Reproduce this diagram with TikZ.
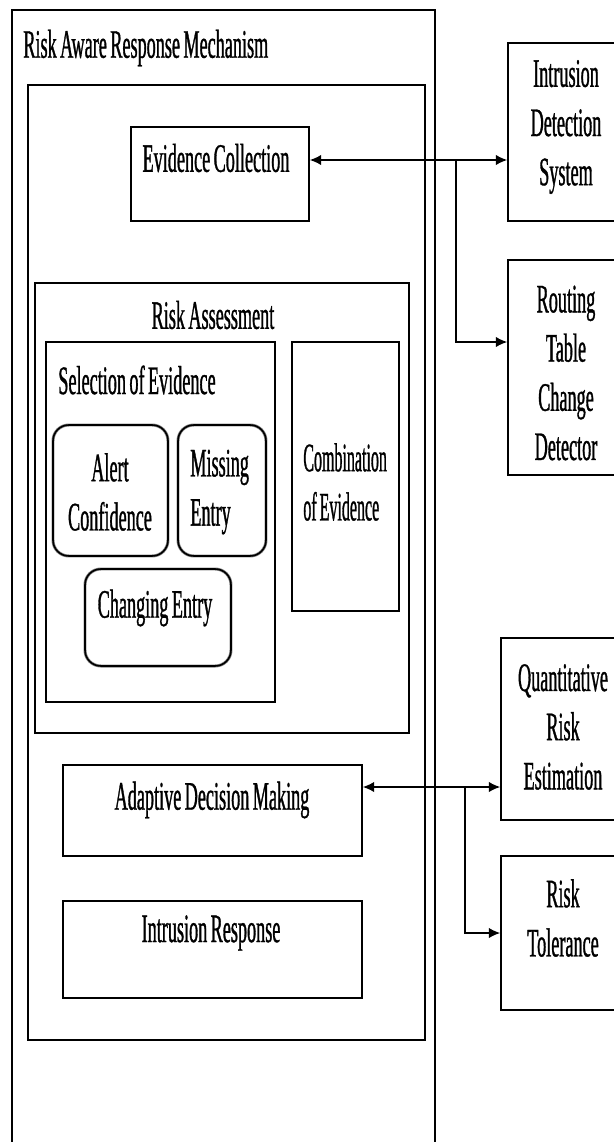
\documentclass[tikz,border=0pt]{standalone}
\usepackage{fontspec}
\setmainfont[FakeStretch=0.45, WordSpace=0.75, FakeBold=0.8]{Liberation Serif}
\usetikzlibrary{arrows.meta,fit}

\begin{document}
\begin{tikzpicture}[x=0.02cm, y=-0.02cm,
  box/.style={draw, line width=0.9pt, inner sep=0pt},
  rbox/.style={box, rounded corners=9pt, preaction={draw=gray, line width=1.7pt}},
  lbl/.style={font=\fontsize{23}{28}\selectfont, align=center, inner sep=0pt},
  link/.style={line width=0.9pt, >={Latex[length=6.5pt,width=6pt]}}]
  \clip (0,0) rectangle (614,1142);
  % outer frame, open at the bottom
  \draw[line width=0.8pt] (12,1160) |- (435,10) -- (435,1160);
  \node[lbl, anchor=west] (rarmT) at (23,48) {Risk Aware Response Mechanism};
  \node[box, fit={(28,85) (425,1040)}] (rarm) {};

  \node[box, fit={(131,127) (309,221)}] (ec) {};
  \node[lbl] (ecT) at (216,158) {Evidence Collection};

  \node[box, fit={(35,283) (409,733)}] (ra) {};
  \node[lbl] (raT) at (213,315) {Risk Assessment};
  \node[box, fit={(46,342) (275,702)}] (soe) {};
  \node[lbl, anchor=west] (soeT) at (58,380) {Selection of Evidence};
  \node[rbox, fit={(53,425) (168,556)}] (ac) {};
  \node[lbl] (acT) at (110,492) {Alert\\Confidence};
  \node[rbox, fit={(178,425) (266,556)}] (me) {};
  \node[lbl, anchor=west, align=left] (meT) at (190,492) {Missing\\Entry};
  \node[rbox, fit={(85,569) (231,666)}] (ce) {};
  \node[lbl] (ceT) at (155,608) {Changing Entry};
  \node[box, fit={(292,342) (399,611)}] (coe) {};
  \node[lbl, anchor=west, align=left] (coeT) at (303,482)
    {\scalebox{0.88}[1]{Combination}\\\scalebox{0.88}[1]{of Evidence}};

  \node[box, fit={(63,765) (362,856)}] (adm) {};
  \node[lbl] (admT) at (212,800) {Adaptive Decision Making};
  \node[box, fit={(63,901) (362,998)}] (ir) {};
  \node[lbl] (irT) at (211,933) {Intrusion Response};

  % external components
  \node[box, fit={(508,43) (640,221)}] (ids) {};
  \node[lbl] (idsT) at (566,127) {Intrusion\\Detection\\System};
  \node[box, fit={(508,260) (640,475)}] (rtcd) {};
  \node[lbl] (rtcdT) at (566,373) {Routing\\Table\\Change\\Detector};
  \node[box, fit={(501,638) (640,820)}] (qre) {};
  \node[lbl] (qreT) at (563,727) {Quantitative\\Risk\\Estimation};
  \node[box, fit={(501,856) (640,1010)}] (rt) {};
  \node[lbl] (rtT) at (563,918) {Risk\\Tolerance};

  % connectors
  \coordinate (j1) at (456,160);
  \coordinate (j2) at (465,787);
  \draw[link, <->] (ec.east |- j1) -- (ids.west |- j1);
  \draw[link, ->] (j1) |- ([yshift=0.51cm]rtcd.west);
  \draw[link, <->] (adm.east |- j2) -- (qre.west |- j2);
  \draw[link, ->] (j2) |- (rt.west);
\end{tikzpicture}
\end{document}
